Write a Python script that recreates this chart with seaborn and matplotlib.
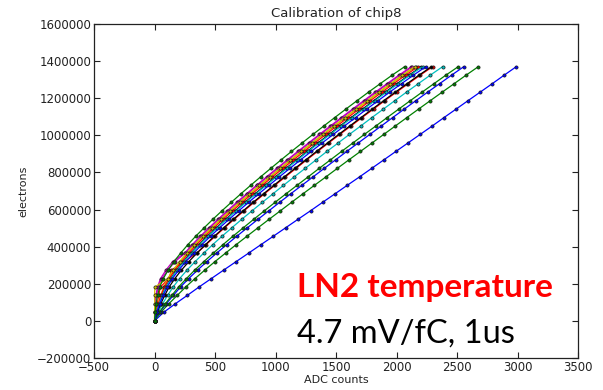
import numpy as np
import pandas as pd
import matplotlib
matplotlib.use("Agg")
import matplotlib.pyplot as plt
import seaborn as sns

# injected charge levels (electrons), shared by every channel
electrons = [0, 45700, 91300, 137000, 182700, 228300, 274000, 319700, 365300,
             411000, 456700, 502300, 548000, 593700, 639300, 685000, 730700,
             776300, 822000, 867700, 913300, 959000, 1004700, 1050300, 1096000,
             1141700, 1187300, 1233000, 1278700, 1324300, 1370000]

# ADC counts read for each channel
ch00 = [0, 75, 170, 270, 368, 470, 572, 675, 778, 880, 983, 1085, 1187, 1290, 1390, 1492,
        1593, 1695, 1795, 1895, 1995, 2095, 2195, 2295, 2393, 2493, 2592, 2692, 2792, 2890, 2990]
ch01 = [0, 51, 117, 187, 258, 335, 416, 500, 587, 675, 765, 856, 948, 1041, 1133, 1227,
        1322, 1417, 1511, 1606, 1702, 1798, 1894, 1990, 2086, 2183, 2280, 2378, 2477, 2575, 2676]
ch02 = [0, 10, 22, 35, 48, 120, 140, 245, 350, 427, 502, 580, 659, 741, 824, 909,
        995, 1082, 1170, 1258, 1348, 1439, 1531, 1623, 1716, 1810, 1904, 2000, 2098, 2196, 2298]
ch03 = [0, 29, 66, 108, 154, 208, 269, 336, 407, 481, 559, 640, 722, 807, 892, 979,
        1066, 1155, 1245, 1335, 1425, 1518, 1610, 1704, 1797, 1892, 1987, 2083, 2181, 2279, 2381]
ch04 = [0, 3, 6, 12, 25, 50, 95, 150, 250, 312, 380, 451, 525, 602, 680, 761,
        843, 926, 1011, 1097, 1184, 1273, 1362, 1453, 1544, 1637, 1730, 1824, 1922, 2020, 2122]
ch05 = [0, 12, 29, 50, 76, 113, 159, 212, 272, 336, 405, 478, 553, 631, 711, 792,
        875, 959, 1044, 1131, 1218, 1308, 1398, 1489, 1580, 1673, 1767, 1861, 1959, 2057, 2159]
ch06 = [0, 15, 37, 62, 92, 133, 182, 238, 300, 367, 437, 512, 589, 668, 748, 831,
        915, 1000, 1086, 1173, 1262, 1351, 1442, 1533, 1625, 1719, 1813, 1907, 2005, 2103, 2205]
ch07 = [0, 42, 96, 155, 215, 283, 356, 433, 514, 596, 681, 768, 856, 946, 1035, 1126,
        1218, 1311, 1403, 1496, 1589, 1684, 1779, 1874, 1969, 2065, 2161, 2258, 2357, 2455, 2556]
ch08 = [0, 39, 88, 143, 199, 264, 333, 408, 486, 566, 649, 735, 821, 909, 997, 1087,
        1178, 1270, 1361, 1454, 1546, 1640, 1734, 1829, 1923, 2019, 2115, 2212, 2310, 2408, 2510]
ch09 = [0, 13, 32, 54, 82, 121, 168, 223, 283, 348, 418, 492, 567, 646, 726, 807,
        891, 975, 1061, 1148, 1236, 1325, 1415, 1507, 1598, 1691, 1785, 1880, 1977, 2075, 2178]
ch10 = [0, 16, 38, 64, 95, 137, 186, 243, 306, 373, 444, 519, 596, 675, 756, 838,
        923, 1008, 1094, 1182, 1270, 1360, 1451, 1542, 1634, 1728, 1822, 1917, 2014, 2112, 2215]
ch11 = [0, 4, 9, 16, 30, 60, 110, 170, 255, 318, 386, 458, 532, 609, 688, 768,
        851, 934, 1019, 1105, 1192, 1281, 1371, 1462, 1553, 1646, 1739, 1834, 1931, 2029, 2132]
ch12 = [0, 0, 2, 0, 4, 109, 154, 207, 267, 330, 399, 472, 546, 624, 703, 784,
        867, 951, 1036, 1122, 1210, 1299, 1389, 1480, 1571, 1664, 1758, 1852, 1949, 2047, 2150]
ch13 = [0, 22, 51, 84, 121, 168, 223, 284, 351, 421, 495, 573, 652, 734, 816, 901,
        987, 1073, 1161, 1250, 1339, 1430, 1522, 1614, 1707, 1801, 1895, 1991, 2088, 2186, 2289]
ch14 = [0, 18, 43, 72, 105, 148, 200, 259, 323, 391, 463, 539, 617, 697, 778, 862,
        947, 1032, 1119, 1207, 1296, 1386, 1477, 1569, 1662, 1755, 1849, 1944, 2042, 2140, 2242]
ch15 = [0, 5, 13, 25, 43, 73, 113, 161, 216, 276, 341, 411, 483, 558, 635, 714,
        795, 877, 961, 1046, 1132, 1220, 1309, 1399, 1490, 1582, 1675, 1769, 1866, 1964, 2067]

channels = [ch00, ch01, ch02, ch03, ch04, ch05, ch06, ch07,
            ch08, ch09, ch10, ch11, ch12, ch13, ch14, ch15]

x_ticks = [-500, 0, 500, 1000, 1500, 2000, 2500, 3000, 3500]
y_ticks = [-200000, 0, 200000, 400000, 600000, 800000, 1000000, 1200000, 1400000, 1600000]

# classic matplotlib colour cycle
cycle = ["#0000ff", "#008000", "#ff0000", "#00bfbf", "#bf00bf", "#d0c000", "#000000"]

frames = []
for i, xs in enumerate(channels):
    frames.append(pd.DataFrame({"adc": xs, "electrons": electrons, "channel": f"ch{i}"}))
df = pd.concat(frames, ignore_index=True)
palette = {f"ch{i}": cycle[i % len(cycle)] for i in range(len(channels))}

sns.set_style("ticks")
plt.rcParams["font.family"] = ["DejaVu Sans"]

fig = plt.figure(figsize=(6.03, 3.90), dpi=100)
ax = fig.add_axes([94 / 603, 1 - 358 / 390, (578 - 94) / 603, (358 - 24) / 390])

sns.lineplot(data=df, x="adc", y="electrons", hue="channel", palette=palette,
             estimator=None, sort=False, legend=False, ax=ax,
             marker="o", markersize=2.3, markeredgecolor="#1a1a1a",
             markeredgewidth=0.5, linewidth=0.9)

ax.set_xlim(-500, 3500)
ax.set_ylim(-200000, 1600000)
ax.set_xticks(x_ticks)
ax.set_yticks(y_ticks)
ax.ticklabel_format(style="plain", useOffset=False)
ax.tick_params(direction="in", top=True, right=True, length=4, width=0.8,
               labelsize=8.5, colors="#222222", pad=2)
for s in ax.spines.values():
    s.set_visible(True)
    s.set_color("#222222")
    s.set_linewidth(0.9)
ax.set_xlabel("ADC counts", fontsize=8, color="#222222", labelpad=1)
ax.set_ylabel("electrons", fontsize=8, color="#222222", labelpad=6)
ax.set_title("Calibration of chip8", fontsize=9.5, color="#222222", pad=5)

fig.text(297 / 603, 1 - 297 / 390, "LN2 temperature", color="#ff0000",
         fontsize=24, fontweight="bold", family=["Lato", "DejaVu Sans"],
         ha="left", va="baseline")
fig.text(297 / 603, 1 - 343 / 390, "4.7 mV/fC, 1us", color="#000000",
         fontsize=23.5, family=["Lato", "DejaVu Sans"], ha="left", va="baseline")

fig.savefig("out.png", dpi=100)
